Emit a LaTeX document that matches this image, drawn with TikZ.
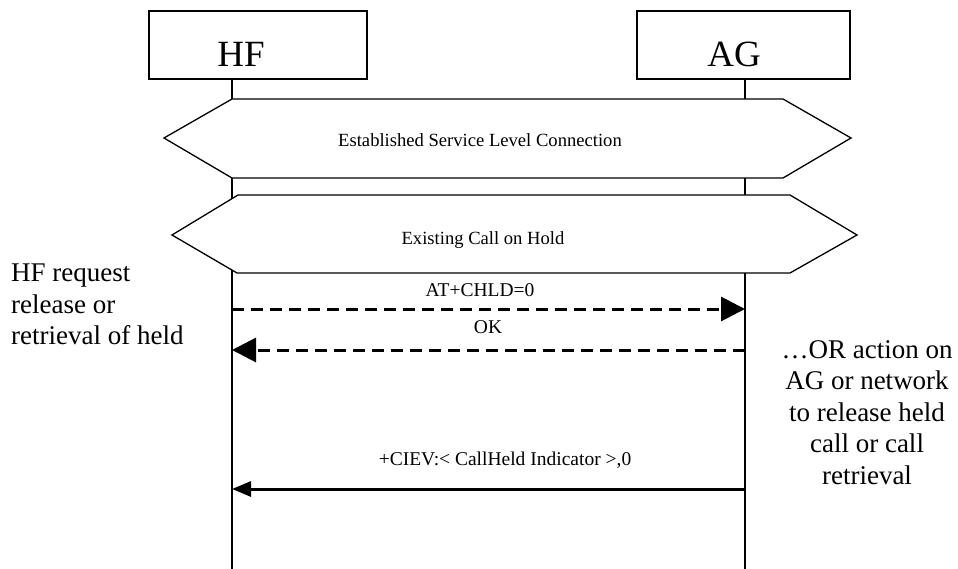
\documentclass[tikz,border=0pt]{standalone}
\usepackage{fontspec}
\setmainfont{Liberation Serif}
\usetikzlibrary{arrows.meta}

\begin{document}
\begin{tikzpicture}[x=1pt,y=-1pt]
  % Styles
    \tikzstyle{entity}=[draw,line width=1.5pt,inner sep=0pt]
    \tikzstyle{entityname}=[font=\fontsize{37}{40}\selectfont,anchor=base,inner sep=0pt]
    \tikzstyle{lifeline}=[line width=2.6pt]
    \tikzstyle{region}=[draw,fill=white,line width=1.3pt,line join=miter]
    \tikzstyle{regiontext}=[font=\fontsize{18.6}{22}\selectfont,anchor=base,inner sep=0pt]
    \tikzstyle{msgtext}=[font=\fontsize{19.5}{22}\selectfont,anchor=base,inner sep=0pt]
    \tikzstyle{request}=[line width=3pt,dash pattern=on 12pt off 7pt,-{Triangle[length=24pt,width=24pt]}]
    \tikzstyle{indication}=[line width=3pt,-{Triangle[length=19pt,width=15pt]}]
    \tikzstyle{note}=[font=\fontsize{27}{31.5}\selectfont,inner sep=0pt]

  % The graphic
    \useasboundingbox (0,0) rectangle (958,569);

    \node[entity,minimum width=218pt,minimum height=68pt] (hf) at (258,45) {};
    \node[entity,minimum width=213pt,minimum height=68pt] (ag) at (743.5,45) {};
    \node[entityname] (hfname) at (241,67) {HF};
    \node[entityname] (agname) at (734,67) {AG};

    % lifelines and message points
    \foreach \name/\x in {hf/232,ag/745}
    {
      \coordinate (\name-top) at (\x,79);
      \coordinate (\name-end) at (\x,569);
      \draw[lifeline] (\name-top) -- (\name-end);
      \foreach \msg/\y in {m1/309,m2/350,m3/489}
        \coordinate (\name-\msg) at (\x,\y);
    }

    % states
    \draw[region] (232,99) -- (783,99) -- (851,138) -- (783,178) -- (232,178) -- (164,138) -- cycle;
    \node[regiontext] (slc) at (480,147) {Established Service Level Connection};
    \draw[region] (238,195) -- (790,195) -- (857,235) -- (790,273) -- (237,273) -- (172,235) -- cycle;
    \node[regiontext] (hold) at (483,245) {Existing Call on Hold};

    % messages
    \draw[request] (hf-m1) -- (ag-m1);
    \node[msgtext] (chld) at (480,297) {AT+CHLD=0};
    \draw[request] (ag-m2) -- (hf-m2);
    \node[msgtext] (ok) at (488,333) {OK};
    \draw[indication] (ag-m3) -- (hf-m3);
    \node[msgtext] (ciev) at (505,465) {+CIEV:< CallHeld Indicator >,0};

    % notes
    \node[note,align=left,anchor=north west] (hfnote) at (11,264)
      {HF request\\release or\\retrieval of held};
    \node[note,align=center,anchor=north] (agnote) at (867,340)
      {\dots OR action on\\AG or network\\to release held\\call or call\\retrieval};
\end{tikzpicture}
\end{document}
